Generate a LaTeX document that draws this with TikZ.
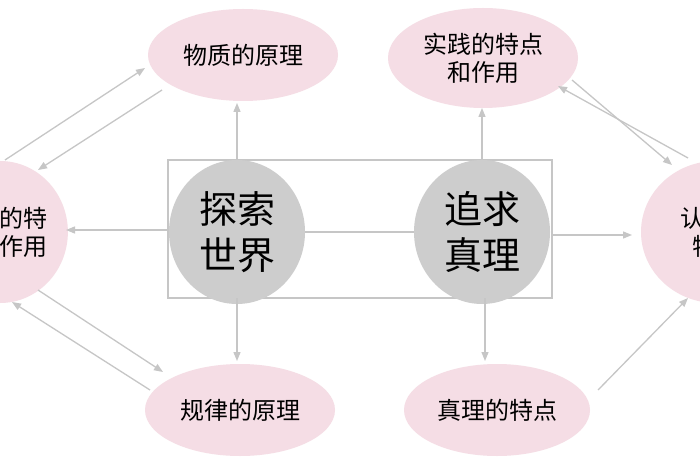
\documentclass[tikz,border=0pt]{standalone}
\usepackage{fontspec}
\newfontfamily\cjk{Noto Sans CJK SC}
\usetikzlibrary{arrows.meta,shapes.geometric}
\definecolor{pinkfill}{HTML}{F5DDE5}
\definecolor{circfill}{HTML}{CDCDCD}
\definecolor{linegray}{HTML}{C6C6C6}
\tikzset{
  idea/.style={ellipse, fill=pinkfill, inner sep=0pt, align=center, font=\cjk\fontsize{24}{28}\selectfont},
  core/.style={ellipse, fill=circfill, inner sep=0pt, align=center, minimum width=136pt, minimum height=144pt, font=\cjk\fontsize{38}{46}\selectfont},
  link/.style={draw=linegray, line width=1.3pt, -{Triangle[length=9pt,width=7pt]}},
  plain/.style={draw=linegray, line width=1.3pt}
}
\begin{document}
\begin{tikzpicture}[x=1pt,y=-1pt]
  \useasboundingbox (0,0) rectangle (700,470);
  \clip (0,0) rectangle (700,470);
  \fill[white] (0,0) rectangle (700,470);
  % frame and the two cores
  \draw[plain] (168,160) rectangle (552,298);
  \draw[plain] (237,232) -- (482,232);
  \node[core] (world) at (237,232) {探索\\世界};
  \node[core] (truth) at (482,232) {追求\\真理};
  % surrounding ideas
  \node[idea, minimum width=190pt, minimum height=92pt] (matter) at (243,55) {物质的原理};
  \node[idea, minimum width=190pt, minimum height=100pt] (practice) at (483,58) {实践的特点\\和作用};
  \node[idea, minimum width=190pt, minimum height=92pt] (law) at (240,410) {规律的原理};
  \node[idea, minimum width=186pt, minimum height=92pt] (truthtrait) at (497,410) {真理的特点};
  \node[idea, minimum width=132pt, minimum height=142pt] (mind) at (0,232) {意识的特\\点和作用};
  \node[idea, minimum width=150pt, minimum height=142pt] (know) at (716,232) {认识的\\特点};
  % arrows out of the frame
  \coordinate (wt) at (237,160); \coordinate (wb) at (237,298);
  \coordinate (tt) at (482,160); \coordinate (tb) at (485,298);
  \coordinate (fl) at (168,230); \coordinate (fr) at (552,235);
  \draw[link] (wt) -- (237,103);
  \draw[link] (wb) -- (237,361);
  \draw[link] (tt) -- (482,108);
  \draw[link] (tb) -- (485,361);
  \draw[link] (fl) -- (66,230);
  \draw[link] (fr) -- (632,235);
  % cross links
  \draw[link] (5,160) -- (145,68);
  \draw[link] (162,90) -- (38,170);
  \draw[link] (38,290) -- (163,372);
  \draw[link] (150,390) -- (12,302);
  \draw[link] (572,80) -- (672,165);
  \draw[link] (688,158) -- (558,86);
  \draw[link] (598,390) -- (688,298);
\end{tikzpicture}
\end{document}
